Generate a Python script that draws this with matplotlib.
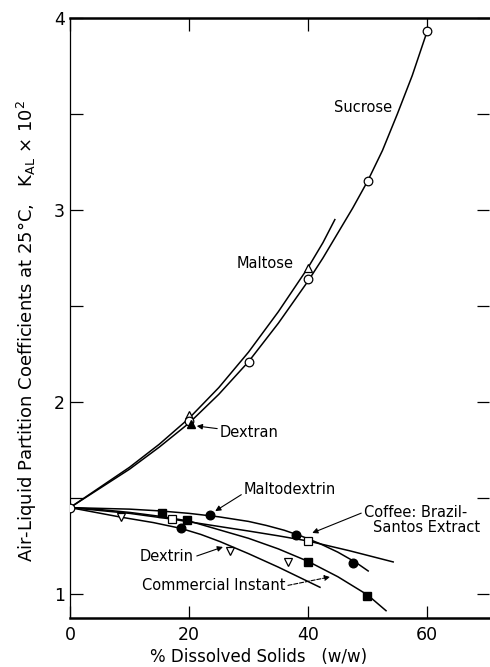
import matplotlib
matplotlib.use('Agg')
import matplotlib.pyplot as plt
import numpy as np

plt.rcParams['font.family'] = ['DejaVu Sans']
plt.rcParams['mathtext.fontset'] = 'dejavusans'

# measured points (% dissolved solids, K_AL x 10^2)
sucrose_x = [0, 20, 30, 40, 50, 60]
sucrose_y = [1.45, 1.90, 2.21, 2.64, 3.15, 3.93]
maltose_x = [20, 40]
maltose_y = [1.93, 2.70]
dextran_x = [20.3]
dextran_y = [1.885]
maltodextrin_x = [18.6, 23.6, 38.0, 47.6]
maltodextrin_y = [1.342, 1.41, 1.307, 1.16]
coffee_x = [17.1, 40.0]
coffee_y = [1.39, 1.276]
instant_x = [15.4, 19.6, 40.0, 49.9]
instant_y = [1.42, 1.385, 1.165, 0.99]
dextrin_x = [8.6, 26.8, 36.7]
dextrin_y = [1.40, 1.225, 1.168]

# hand-drawn fitted curves
sucrose_cx = [0, 5, 10, 15, 20, 25, 30, 35, 40, 42.5, 45, 47.5, 50, 52.5, 55, 57.5, 60]
sucrose_cy = [1.45, 1.55, 1.65, 1.765, 1.89, 2.04, 2.21, 2.41, 2.63, 2.75, 2.88, 3.01, 3.15,
              3.31, 3.50, 3.70, 3.93]
maltose_cx = [0, 5, 10, 15, 20, 25, 30, 35, 40, 42.5, 44.5]
maltose_cy = [1.45, 1.555, 1.66, 1.78, 1.915, 2.075, 2.26, 2.47, 2.70, 2.83, 2.95]
maltodextrin_cx = [0, 10, 15, 20, 25, 30, 33, 36, 39, 42, 45, 48, 50.1]
maltodextrin_cy = [1.45, 1.442, 1.433, 1.42, 1.402, 1.378, 1.357, 1.332, 1.30, 1.262, 1.218, 1.165, 1.12]
coffee_cx = [0, 10, 17.1, 25, 30, 35, 40, 47, 54.3]
coffee_cy = [1.45, 1.42, 1.39, 1.352, 1.328, 1.303, 1.276, 1.225, 1.167]
instant_cx = [0, 5, 10, 15, 20, 25, 30, 35, 40, 45, 50, 53.1]
instant_cy = [1.45, 1.44, 1.425, 1.405, 1.38, 1.335, 1.29, 1.235, 1.17, 1.09, 0.995, 0.913]
dextrin_cx = [0, 8.6, 14, 18.6, 22, 25.2, 30, 35, 42.0]
dextrin_cy = [1.45, 1.40, 1.372, 1.342, 1.31, 1.273, 1.21, 1.14, 1.035]

fig = plt.figure(figsize=(4.9, 6.67), dpi=100)
ax = fig.add_axes([70 / 490, 49 / 667, 419 / 490, 600 / 667])

lw = 1.1
for cx, cy in [(sucrose_cx, sucrose_cy), (maltose_cx, maltose_cy),
               (maltodextrin_cx, maltodextrin_cy), (coffee_cx, coffee_cy),
               (instant_cx, instant_cy), (dextrin_cx, dextrin_cy)]:
    ax.plot(cx, cy, color='black', lw=lw, zorder=2)

ms = 6.2
ax.plot(maltose_x, maltose_y, '^', ms=ms, mfc='white', mec='black', mew=0.9, zorder=3)
ax.plot(sucrose_x, sucrose_y, 'o', ms=ms, mfc='white', mec='black', mew=0.9, zorder=4)
ax.plot(dextran_x, dextran_y, '^', ms=ms, mfc='black', mec='black', zorder=5)
ax.plot(maltodextrin_x, maltodextrin_y, 'o', ms=ms, mfc='black', mec='black', zorder=4)
ax.plot(coffee_x, coffee_y, 's', ms=5.5, mfc='white', mec='black', mew=0.9, zorder=4)
ax.plot(instant_x, instant_y, 's', ms=5.5, mfc='black', mec='black', zorder=4)
ax.plot(dextrin_x, dextrin_y, 'v', ms=ms, mfc='white', mec='black', mew=0.9, zorder=4)

fs = 10.5
arrow = dict(arrowstyle='-|>', color='black', lw=0.8, mutation_scale=8, shrinkA=0, shrinkB=0)
ax.text(49.2, 3.536, 'Sucrose', fontsize=fs, ha='center', va='center')
ax.text(32.8, 2.72, 'Maltose', fontsize=fs, ha='center', va='center')
ax.annotate('Dextran', xy=(21.3, 1.875), xytext=(25.2, 1.84), fontsize=fs,
            ha='left', va='center', arrowprops=arrow)
ax.annotate('Maltodextrin', xy=(24.4, 1.432), xytext=(37.0, 1.542), fontsize=fs,
            ha='center', va='center', arrowprops=dict(arrow, relpos=(0, 0.3)))
ax.annotate('Coffee: Brazil-', xy=(40.7, 1.318), xytext=(49.4, 1.427), fontsize=fs,
            ha='left', va='center', arrowprops=dict(arrow, relpos=(0, 0.5)))
ax.text(50.9, 1.344, 'Santos Extract', fontsize=fs, ha='left', va='center')
ax.annotate('Dextrin', xy=(25.7, 1.245), xytext=(16.3, 1.193), fontsize=fs,
            ha='center', va='center', arrowprops=dict(arrow, relpos=(1, 0.5)))
ax.annotate('Commercial Instant', xy=(43.7, 1.089), xytext=(24.1, 1.042), fontsize=fs,
            ha='center', va='center',
            arrowprops=dict(arrow, relpos=(1, 0.5), linestyle='--'))

ax.set_xlim(0, 70.4)
ax.set_ylim(0.875, 4.0)
ax.set_xticks([0, 20, 40, 60])
ax.set_yticks([1, 2, 3, 4])
ax.set_yticks(np.arange(1, 4, 0.5), minor=True)
ax.tick_params(which='both', direction='in', top=True, right=True,
               labelsize=12.5, width=0.9)
ax.tick_params(which='major', length=9)
ax.tick_params(which='minor', length=9)
ax.tick_params(axis='x', which='both', pad=6)
ax.tick_params(axis='x', which='minor', top=False, bottom=False)
ax.spines['right'].set_visible(False)
ax.spines['left'].set_linewidth(0.9)
ax.spines['top'].set_linewidth(1.8)
ax.spines['bottom'].set_linewidth(1.8)

ax.set_xlabel('% Dissolved Solids   (w/w)', fontsize=12)
ax.xaxis.set_label_coords(0.449, -0.05)
ax.set_ylabel(r'Air-Liquid Partition Coefficients at 25°C,   K$_{\mathregular{AL}}$ $\times$ 10$^{\mathregular{2}}$',
              fontsize=13)
ax.yaxis.set_label_coords(-0.074, 0.478)

fig.savefig('out.png', dpi=100)
